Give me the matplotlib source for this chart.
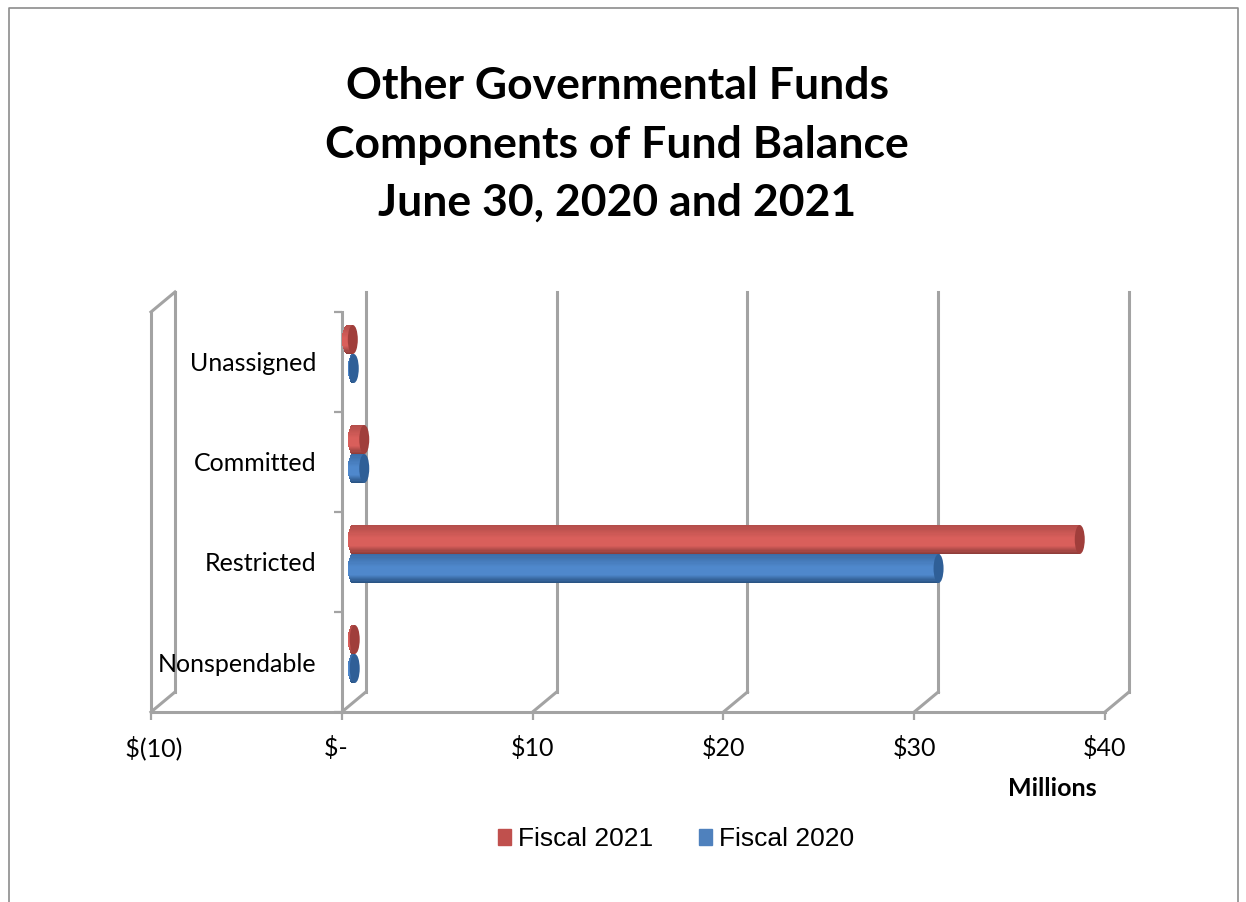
import matplotlib
matplotlib.use("Agg")
import matplotlib.pyplot as plt
import numpy as np
from matplotlib.lines import Line2D
from matplotlib.patches import Ellipse, Patch
from matplotlib.transforms import Affine2D

W, H = 1246, 902

title_lines = ["Other Governmental Funds", "Components of Fund Balance", "June 30, 2020 and 2021"]
categories = ["Nonspendable", "Restricted", "Committed", "Unassigned"]
fiscal_2021 = [0.1, 38.1, 0.6, -0.3]
fiscal_2020 = [0.1, 30.7, 0.6, 0.05]
x_ticks = [-10, 0, 10, 20, 30, 40]
x_labels = [" $(10)", "$-  ", "$10", "$20", "$30", "$40"]

GRAY = "#A3A3A3"
RED = {"edge": "#8A3A38", "mid": "#D95F5B", "cap": "#A03E3B", "legend": "#C0504D"}
BLUE = {"edge": "#27507F", "mid": "#4F88CC", "cap": "#2F5F97", "legend": "#4F81BD"}
BAR_H = 0.29
CAP_W = 10 / 19.08  # cap width, in data units


def px(x, y):
    return x / W, 1 - y / H


def mix(a, b, t):
    a, b = np.array(matplotlib.colors.to_rgb(a)), np.array(matplotlib.colors.to_rgb(b))
    return tuple(a + (b - a) * t)


fig = plt.figure(figsize=(W / 100, H / 100), dpi=100)
ax = fig.add_axes([151 / W, 1 - 712 / H, (1105 - 151) / W, 400 / H])
ax.set_xlim(-10, 40)
ax.set_ylim(0, 4)
ax.patch.set_alpha(0)

# shifts for the fake 3d depth, in pixels
trans_back = ax.transData + Affine2D().translate(24, 20)
trans_bars = ax.transData + Affine2D().translate(11, 8)

# walls and gridlines
for x in x_ticks:
    ax.plot([x, x], [0, 4], color=GRAY, lw=2.2, transform=trans_back, clip_on=False, zorder=1)
    ax.plot([x, x + 24 / 19.08], [0, 20 / 100], color=GRAY, lw=2.2, clip_on=False, zorder=1)
ax.plot([-10, -10], [0, 4], color=GRAY, lw=2.2, clip_on=False, zorder=1)
ax.plot([-10, -10 + 24 / 19.08], [4, 4 + 20 / 100], color=GRAY, lw=2.2, clip_on=False, zorder=1)

for s in ["top", "right"]:
    ax.spines[s].set_visible(False)
ax.spines["left"].set_position(("data", 0))
for s in ["left", "bottom"]:
    ax.spines[s].set_color(GRAY)
    ax.spines[s].set_linewidth(2.2)

ax.set_xticks(x_ticks)
ax.set_xticklabels(x_labels, fontfamily="Lato", fontsize=18)
ax.tick_params(axis="x", length=6, width=1.6, color=GRAY, pad=11)
ax.set_yticks(range(5))
ax.set_yticklabels([])
ax.tick_params(axis="y", which="major", length=6, width=1.6, color=GRAY)
ax.set_yticks(np.arange(len(categories)) + 0.5, minor=True)
ax.set_yticklabels(categories, minor=True, fontfamily="Lato", fontsize=18)
ax.tick_params(axis="y", which="minor", length=0, pad=18)


def draw_bars(values, offset, col, z):
    for i, v in enumerate(values):
        y = i + 0.5 + offset
        lo, hi = min(v, 0), max(v, 0)
        # cylinder shading, bright in the middle and dark at the lower edge
        n = 24
        edges = np.linspace(y - BAR_H / 2, y + BAR_H / 2, n + 1)
        for k in range(n):
            t = (k + 0.5) / n
            if t < 0.55:
                c = mix(col["edge"], col["mid"], min(t / 0.3, 1))
            else:
                c = mix(col["mid"], mix(col["edge"], col["mid"], 0.5), (t - 0.55) / 0.45)
            # left end follows the round end of the cylinder
            r = CAP_W / 2 * np.sqrt(1 - (2 * t - 1) ** 2)
            ax.barh(edges[k], hi - lo + r, height=edges[k + 1] - edges[k], left=lo - r, align="edge",
                    color=c, lw=0, transform=trans_bars, zorder=z, clip_on=False)
        ax.add_patch(Ellipse((hi, y), CAP_W, BAR_H, color=col["cap"],
                             transform=trans_bars, zorder=z + 0.1, lw=0, clip_on=False))


# red sits above blue in each group
draw_bars(fiscal_2020, -BAR_H / 2, BLUE, 3)
draw_bars(fiscal_2021, BAR_H / 2, RED, 4)

# titles
for line, yp in zip(title_lines, [86, 145, 203]):
    x, y = px(617, yp)
    fig.text(x, y, line, ha="center", va="center", fontfamily="Lato", fontweight="bold", fontsize=32)
x, y = px(1052, 788)
fig.text(x, y, "Millions", ha="center", va="center", fontfamily="Lato", fontweight="bold", fontsize=18)

handles = [Patch(color=RED["legend"], label="Fiscal 2021"), Patch(color=BLUE["legend"], label="Fiscal 2020")]
leg = fig.legend(handles=handles, ncols=2, loc="center", bbox_to_anchor=px(676, 839), frameon=False,
                 prop={"family": "Liberation Sans", "size": 19}, handlelength=0.5, handleheight=0.55,
                 handletextpad=0.25, columnspacing=1.75)

# page border from the source document
bx = [px(9, 902), px(9, 8), px(1238, 8), px(1238, 902)]
fig.add_artist(Line2D([p[0] for p in bx], [p[1] for p in bx], color="#8C8C8C", lw=1.2))

fig.savefig("out.png", dpi=100)
